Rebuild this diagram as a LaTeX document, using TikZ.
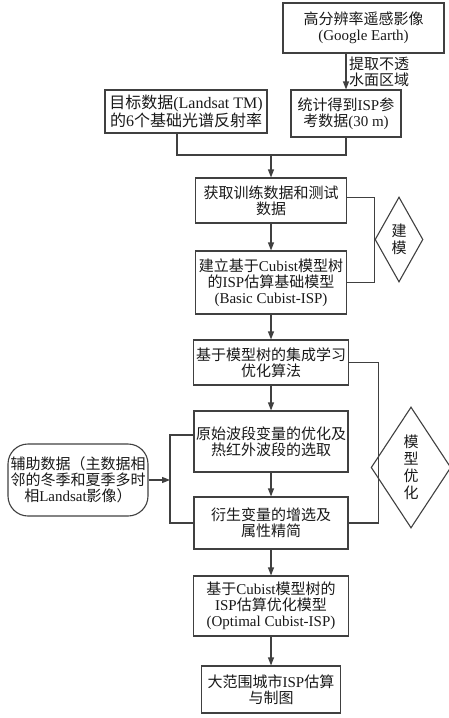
\documentclass[tikz,border=0pt]{standalone}
\usepackage{fontspec}
\setmainfont{Liberation Serif}
\newfontfamily\zhfont{Noto Sans CJK SC}
\newcommand{\zh}[1]{{\zhfont #1}}
\usetikzlibrary{arrows.meta,shapes.geometric}
\begin{document}
\begin{tikzpicture}[x=1pt,y=-1pt,
  box/.style={draw=black!75, line width=1.1pt, rectangle, align=center, inner sep=0pt,
    font=\fontsize{15}{16}\selectfont, text=black!90},
  lbl/.style={align=center, inner sep=0pt, font=\fontsize{15}{16}\selectfont, text=black!90},
  dia/.style={draw=black!75, line width=1.1pt, diamond, align=center, inner sep=0pt,
    font=\fontsize{15}{17}\selectfont, text=black!90},
  ln/.style={draw=black!75, line width=1.1pt},
  arr/.style={draw=black!75, line width=1.1pt, -{Triangle[length=8pt,width=6pt]}}]
\path[use as bounding box] (0,0) rectangle (448,718);

\node[box, minimum width=161pt, minimum height=50pt] (b1) at (363.5,28) {\zh{高分辨率遥感影像}\\(Google Earth)};
\node[box, minimum width=110pt, minimum height=47pt] (b2) at (346,113.5) {\zh{统计得到}ISP\zh{参}\\\zh{考数据}(30 m)};
\node[lbl] (l1) at (379,72) {\zh{提取不透}\\\zh{水面区域}};
\node[box, minimum width=162pt, minimum height=43pt, font=\fontsize{16}{16}\selectfont] (b3) at (186,111.5) {\zh{目标数据}(Landsat TM)\\\zh{的}6\zh{个基础光谱反射率}};
\node[box, minimum width=151pt, minimum height=45pt] (b4) at (271,200.5) {\zh{获取训练数据和测试}\\\zh{数据}};
\node[box, minimum width=151pt, minimum height=63pt] (b5) at (271,282.5) {\zh{建立基于}Cubist\zh{模型树}\\\zh{的}ISP\zh{估算基础模型}\\(Basic Cubist-ISP)};
\node[dia, minimum width=48pt, minimum height=85pt] (d1) at (399,239.5) {\zh{建}\\\zh{模}};
\node[box, minimum width=155pt, minimum height=45pt] (b6) at (271,362.5) {\zh{基于模型树的集成学习}\\\zh{优化算法}};
\node[box, minimum width=154pt, minimum height=61pt] (b7) at (271,441.5) {\zh{原始波段变量的优化及}\\\zh{热红外波段的选取}};
\node[box, minimum width=154pt, minimum height=52pt] (b8) at (271,523) {\zh{衍生变量的增选及}\\\zh{属性精简}};
\node[dia, minimum width=62pt, minimum height=121pt] (d2) at (411,467.5) {\zh{模}\\\zh{型}\\\zh{优}\\\zh{化}};
\node[box, rounded corners=20pt, minimum width=140pt, minimum height=72pt] (aux) at (78,480) {\zh{辅助数据（主数据相}\\\zh{邻的冬季和夏季多时}\\\zh{相}Landsat\zh{影像）}};
\node[box, minimum width=155pt, minimum height=60pt] (b9) at (271,606) {\zh{基于}Cubist\zh{模型树的}\\ISP\zh{估算优化模型}\\(Optimal Cubist-ISP)};
\node[box, minimum width=139pt, minimum height=47pt] (b10) at (271,689.5) {\zh{大范围城市}ISP\zh{估算}\\\zh{与制图}};

\coordinate (j1) at (271,155);
\coordinate (j2) at (170,480);

\draw[arr] (b1.south -| b2.north) -- (b2.north);
\draw[ln] ([xshift=-9pt]b3.south) |- (b2.south |- j1) -- (b2.south);
\draw[arr] (j1) -- (b4.north);
\draw[arr] (b4) -- (b5);
\draw[ln] ([yshift=3pt]b4.east) -- ++(27,0) |- (b5.east);
\draw[arr] (b5) -- (b6);
\draw[ln] (b6.east) -- ++(29,0) |- (b8.east);
\draw[arr] (b6) -- (b7);
\draw[arr] (b7) -- (b8);
\draw[arr] (aux.east) -- (j2);
\draw[ln] ([yshift=6.5pt]b7.west) -| (j2) |- (b8.west);
\draw[arr] (b8) -- (b9);
\draw[arr] (b9) -- (b10);
\end{tikzpicture}
\end{document}
